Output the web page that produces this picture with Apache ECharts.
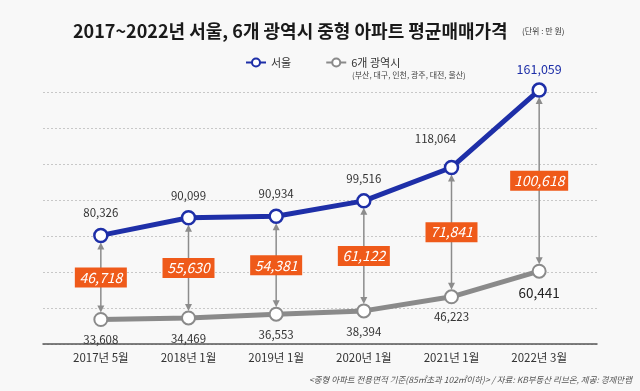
<!DOCTYPE html>
<html>
<head>
<meta charset="utf-8">
<script src="https://cdn.jsdelivr.net/npm/echarts@6/dist/echarts.min.js"></script>
<style>html,body{margin:0;padding:0;background:#f8f8f8;}#c{width:640px;height:391px;}</style>
</head>
<body>
<div id="c"></div>
<script>
const categories = ['2017년 5월', '2018년 1월', '2019년 1월', '2020년 1월', '2021년 1월', '2022년 3월'];
const seoul = [80326, 90099, 90934, 99516, 118064, 161059];
const metro = [33608, 34469, 36553, 38394, 46223, 60441];
const gaps = [46718, 55630, 54381, 61122, 71841, 100618];

const FONT = '"Noto Sans CJK KR", "Noto Sans", sans-serif';
const BLUE = '#1e2fa8', GRAY = '#8a8a8a', ORANGE = '#ef5a1a', ARROW = '#8c8c8c';
const fmt = v => v.toLocaleString('en-US');

const chart = echarts.init(document.getElementById('c'));

const seoulData = seoul.map((v, i) => {
  const d = { value: v };
  if (i === 4) d.label = { offset: [-16, -6] };
  if (i === 5) d.label = { color: BLUE, fontSize: 12.5, distance: 7 };
  return d;
});
const metroData = metro.map((v, i) => {
  const d = { value: v };
  if (i === 5) d.label = { fontSize: 13.5, color: '#222' };
  return d;
});
const arrowData = categories.map((c, i) => [i, seoul[i], metro[i], gaps[i]]);

chart.setOption({
  backgroundColor: '#f8f8f8',
  animation: false,
  textStyle: { fontFamily: FONT },
  title: [
    { text: '2017~2022년 서울, 6개 광역시 중형 아파트 평균매매가격', left: 68, top: 17,
      textStyle: { fontSize: 18, fontWeight: 'bold', color: '#1a1a1a', fontFamily: FONT } }
  ],
  graphic: [
    { type: 'text', left: 522, top: 27, style: { text: '(단위 : 만 원)', font: '8px ' + FONT, fill: '#333' } },
    { type: 'text', left: 352, top: 71, style: { text: '(부산, 대구, 인천, 광주, 대전, 울산)', font: '8px ' + FONT, fill: '#444' } },
    { type: 'text', right: 8, top: 376, style: { text: '<중형 아파트 전용면적 기준(85㎡초과 102㎡이하)> / 자료: KB부동산 리브온, 제공: 경제만랩', font: 'italic 8.5px ' + FONT, fill: '#555' } }
  ],
  legend: {
    data: ['서울', '6개 광역시'], left: 240, top: 52, itemWidth: 20, itemHeight: 10, itemGap: 34,
    textStyle: { fontSize: 11, color: '#333', fontFamily: FONT }
  },
  grid: [
    { left: 43, right: 43, top: 92, bottom: 47 },
    { left: 57, right: 57, top: 92, bottom: 47 }
  ],
  xAxis: [
    { type: 'category', gridIndex: 0, data: categories, axisLabel: { show: false }, axisTick: { show: false },
      axisLine: { lineStyle: { color: '#555', width: 1.5 } } },
    { type: 'category', gridIndex: 1, data: categories, axisTick: { show: false }, axisLine: { show: false },
      axisLabel: { margin: 8, fontSize: 11.5, color: '#333', fontFamily: FONT } }
  ],
  yAxis: [
    { type: 'value', gridIndex: 0, min: 20000, max: 160000, interval: 20000, axisLabel: { show: false },
      axisLine: { show: false }, axisTick: { show: false },
      splitLine: { lineStyle: { color: '#c8c8c8', type: [2, 2], width: 1 } } },
    { type: 'value', gridIndex: 1, min: 20000, max: 160000, interval: 20000, show: false, splitLine: { show: false } }
  ],
  series: [
    {
      type: 'custom', xAxisIndex: 1, yAxisIndex: 1, z: 1, clip: false, silent: true,
      data: arrowData,
      encode: { x: 0, y: 1 },
      renderItem: function (params, api) {
        const i = api.value(0), s = api.value(1), g = api.value(2), gap = api.value(3);
        const p1 = api.coord([i, s]), p2 = api.coord([i, g]);
        const x = p1[0], y1 = p1[1] + 7, y2 = p2[1] - 7;
        const ym = (p1[1] + p2[1]) / 2;
        const text = fmt(gap);
        const w = text.length > 6 ? 58 : 52;
        return {
          type: 'group', children: [
            { type: 'line', shape: { x1: x, y1: y1 + 5, x2: x, y2: y2 - 5 }, style: { stroke: ARROW, lineWidth: 1.5 } },
            { type: 'polygon', shape: { points: [[x, y1], [x - 3.5, y1 + 7], [x + 3.5, y1 + 7]] }, style: { fill: ARROW } },
            { type: 'polygon', shape: { points: [[x, y2], [x - 3.5, y2 - 7], [x + 3.5, y2 - 7]] }, style: { fill: ARROW } },
            { type: 'rect', shape: { x: x - w / 2, y: ym - 10, width: w, height: 20 }, style: { fill: ORANGE } },
            { type: 'text', x: x, y: ym, style: { text: text, fill: '#fff', font: 'italic normal 14px ' + FONT, align: 'center', verticalAlign: 'middle' } }
          ]
        };
      }
    },
    {
      name: '6개 광역시', type: 'line', xAxisIndex: 1, yAxisIndex: 1, z: 3, clip: false,
      data: metroData, symbol: 'circle', symbolSize: 13,
      lineStyle: { color: GRAY, width: 5 },
      itemStyle: { color: '#fff', borderColor: GRAY, borderWidth: 2 },
      label: { show: true, position: 'bottom', distance: 7, formatter: p => fmt(p.value), fontSize: 11.5, color: '#333', fontFamily: FONT }
    },
    {
      name: '서울', type: 'line', xAxisIndex: 1, yAxisIndex: 1, z: 4, clip: false,
      data: seoulData, symbol: 'circle', symbolSize: 13,
      lineStyle: { color: BLUE, width: 5 },
      itemStyle: { color: '#fff', borderColor: BLUE, borderWidth: 2.5 },
      label: { show: true, position: 'top', distance: 9, formatter: p => fmt(p.value), fontSize: 11.5, color: '#333', fontFamily: FONT }
    }
  ]
});
</script>
</body>
</html>
